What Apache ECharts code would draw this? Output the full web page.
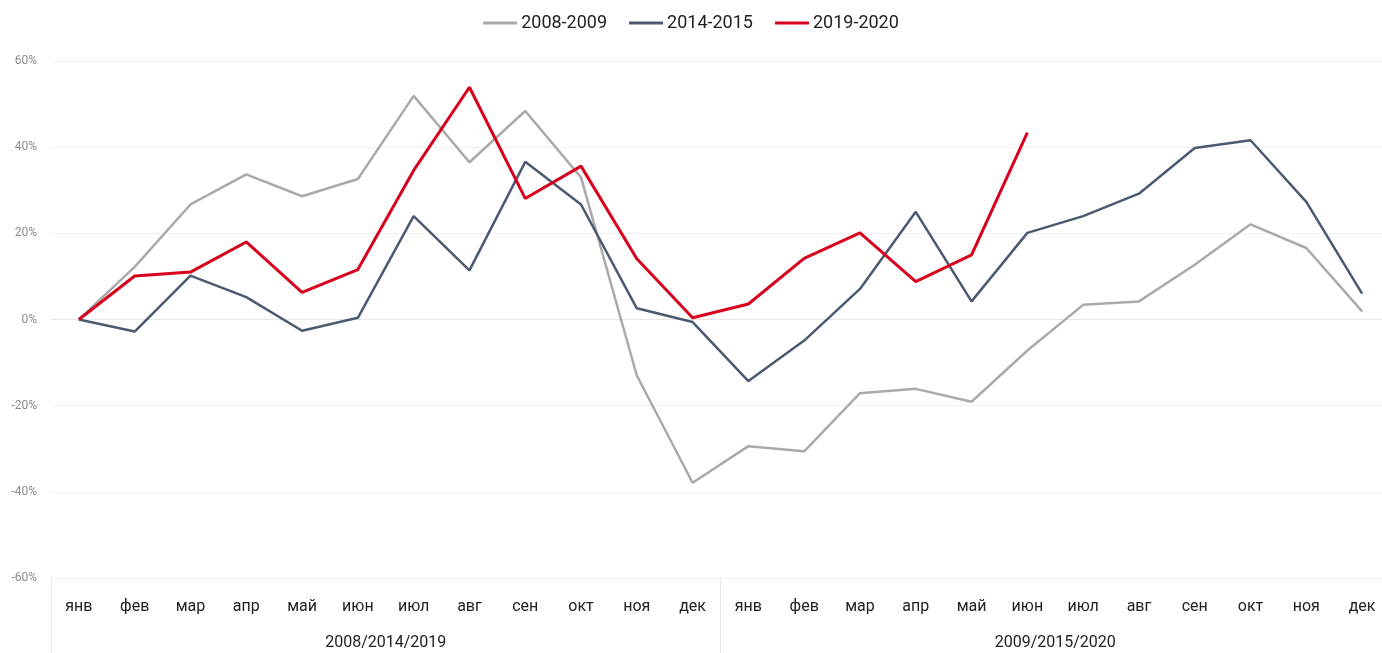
<!DOCTYPE html>
<html>
<head>
<meta charset="utf-8">
<script src="https://cdn.jsdelivr.net/npm/echarts@6/dist/echarts.min.js"></script>
<style>
	html, body { margin: 0; padding: 0; background: #fff; }
	#chart { width: 1382px; height: 653px; }
</style>
</head>
<body>
<div id="chart"></div>
<script>
const months = ['янв', 'фев', 'мар', 'апр', 'май', 'июн', 'июл', 'авг', 'сен', 'окт', 'ноя', 'дек',
	'янв', 'фев', 'мар', 'апр', 'май', 'июн', 'июл', 'авг', 'сен', 'окт', 'ноя', 'дек'];
const groups = ['2008/2014/2019', '2009/2015/2020'];
const seriesNames = ['2008-2009', '2014-2015', '2019-2020'];
const crisis2008 = [0, 12.2, 26.7, 33.7, 28.6, 32.6, 51.9, 36.5, 48.4, 33, -13, -37.9,
	-29.4, -30.6, -17.1, -16.1, -19.1, -7.2, 3.4, 4.2, 12.7, 22.1, 16.6, 1.9];
const crisis2014 = [0, -2.8, 10.2, 5.2, -2.6, 0.4, 24.0, 11.4, 36.6, 26.7, 2.6, -0.6,
	-14.3, -4.9, 7.1, 25.0, 4.2, 20.1, 24.0, 29.2, 39.8, 41.6, 27.3, 6.0];
const crisis2019 = [0, 10.1, 11.0, 18.0, 6.3, 11.6, 34.6, 53.9, 28.1, 35.6, 14.1, 0.4,
	3.6, 14.2, 20.1, 8.8, 15.0, 43.4, null, null, null, null, null, null];
const yTicks = { min: -60, max: 60, interval: 20 };

const font = 'Roboto, "Noto Sans", sans-serif';
const chart = echarts.init(document.getElementById('chart'));
chart.setOption({
	animation: false,
	color: ['#aaaaaa', '#4b5a70', '#d7001d'],
	textStyle: { fontFamily: font },
	legend: {
		top: 9,
		left: 'center',
		icon: 'rect',
		itemWidth: 34,
		itemHeight: 3,
		itemGap: 22,
		textStyle: { fontSize: 18, color: '#222', fontFamily: font, padding: [0, 0, 0, -1] },
		data: seriesNames,
	},
	grid: {
		left: 51,
		width: 1339,
		top: 61,
		bottom: 75,
		outerBoundsMode: 'none',
		containLabel: false,
	},
	xAxis: [{
		type: 'category',
		data: months,
		position: 'bottom',
		axisLine: { lineStyle: { color: '#e6e6e6', width: 1 } },
		axisTick: { show: false },
		axisLabel: { margin: 21, fontSize: 16, color: '#222', interval: 0, fontFamily: font },
	}, {
		type: 'category',
		data: groups,
		position: 'bottom',
		axisLine: { show: false },
		axisTick: { show: true, length: 80, lineStyle: { color: '#e6e6e6' } },
		axisLabel: { margin: 57, fontSize: 16, color: '#222', fontFamily: font },
	}],
	yAxis: {
		type: 'value',
		min: yTicks.min,
		max: yTicks.max,
		interval: yTicks.interval,
		axisLine: { show: false },
		axisTick: { show: false },
		axisLabel: { formatter: '{value}%', fontSize: 12, color: '#8a8a8a', margin: 14, fontFamily: font },
		splitLine: { lineStyle: { color: '#f0f0f0', width: 1 } },
	},
	series: [{
		name: seriesNames[0],
		type: 'line',
		symbol: 'none',
		data: crisis2008,
		lineStyle: { width: 2.5 },
	}, {
		name: seriesNames[1],
		type: 'line',
		symbol: 'none',
		data: crisis2014,
		lineStyle: { width: 2.5 },
	}, {
		name: seriesNames[2],
		type: 'line',
		symbol: 'none',
		data: crisis2019,
		lineStyle: { width: 3 },
		z: 3,
	}],
});
</script>
</body>
</html>
